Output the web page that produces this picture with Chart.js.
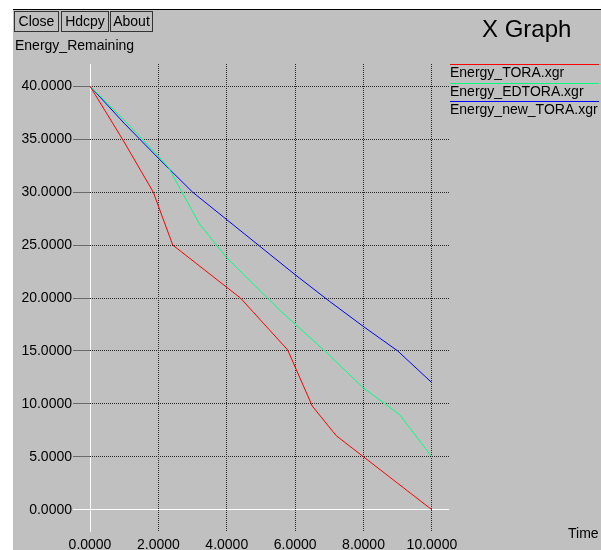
<!DOCTYPE html>
<html>
<head>
<meta charset="utf-8">
<title>X Graph</title>
<script src="https://cdn.jsdelivr.net/npm/chart.js@4.4.1/dist/chart.umd.min.js"></script>
<style>
    body {
        margin: 0;
        background: #fff;
        font-family: "Liberation Sans", Arial, sans-serif;
        font-size: 14px;
        color: #000;
    }
    .frame {
        position: absolute;
        left: 13px;
        top: 9px;
        width: 588px;
        height: 540px;
        background: #c0c0c0;
        border-top: 1px solid #000;
    }
    #chart {
        position: absolute;
        left: 0;
        top: 0;
    }
    .btn {
        position: absolute;
        top: 11px;
        height: 19px;
        line-height: 19px;
        border: 1px solid #333;
        text-align: center;
    }
    .ylabel {
        position: absolute;
        left: 15px;
        top: 37px;
        line-height: 16px;
    }
    .title {
        position: absolute;
        left: 482px;
        top: 15px;
        font-size: 24px;
        line-height: 28px;
    }
    .xlabel {
        position: absolute;
        left: 568px;
        top: 525px;
        line-height: 16px;
    }
    .legend {
        position: absolute;
        left: 450px;
        top: 0;
        width: 149px;
    }
    .legend__item {
        position: absolute;
        left: 0;
        width: 149px;
        line-height: 15px;
        white-space: nowrap;
    }
</style>
</head>
<body>
<div class="frame"></div>
<canvas id="chart" width="601" height="550"></canvas>
<div class="btn" style="left:14px;width:43px">Close</div>
<div class="btn" style="left:61px;width:46px">Hdcpy</div>
<div class="btn" style="left:110px;width:41px">About</div>
<div class="ylabel">Energy_Remaining</div>
<div class="title">X Graph</div>
<div class="xlabel">Time</div>
<div class="legend" id="legend"></div>

<script>

var toraTime = [0, 0.95, 1.85, 2.42, 4.4, 5.78, 6.5, 7.2, 10];
var toraEnergy = [40, 35, 30, 25, 20, 15.1, 9.8, 7, 0];

var edtoraTime = [0, 1, 2, 2.3, 3.2, 4, 5.6, 6.9, 8, 9.05, 10];
var edtoraEnergy = [40, 36.8, 33.4, 32.3, 27, 23.8, 18.7, 14.9, 11.5, 9, 5];

var newToraTime = [0, 1, 2, 3, 4, 5, 6, 7, 8, 9, 10];
var newToraEnergy = [40, 36.5, 33.2, 30, 27.4, 24.8, 22.2, 19.7, 17.3, 15, 12];

var timeTicks = [0, 2, 4, 6, 8, 10];
var energyTicks = [0, 5, 10, 15, 20, 25, 30, 35, 40];

function toPoints(xs, ys) {
    return xs.map(function(x, i) {
        return { x: x, y: ys[i] };
    });
}

function series(label, color, xs, ys) {
    return {
        label: label,
        data: toPoints(xs, ys),
        borderColor: color,
        backgroundColor: color,
        borderWidth: 1,
        pointRadius: 0,
        tension: 0,
        fill: false
    };
}

//Legend: coloured line above each file name, like xgraph

var legendTops = [64, 83, 101];

var xgraphLegend = {
    id: "xgraphLegend",
    afterUpdate: function(chart) {
        var box = document.getElementById("legend");
        box.innerHTML = "";
        chart.data.datasets.forEach(function(ds, i) {
            var item = document.createElement("div");
            item.className = "legend__item";
            item.style.top = legendTops[i] + "px";
            item.style.borderTop = "1px solid " + ds.borderColor;
            item.textContent = ds.label;
            box.appendChild(item);
        });
    }
};

function isZero(ctx) {
    return ctx.tick && ctx.tick.value === 0;
}

var fontSpec = { family: "'Liberation Sans', Arial, sans-serif", size: 14 };

var chart = new Chart(document.getElementById("chart"), {
    type: "line",
    data: {
        datasets: [
            series("Energy_TORA.xgr", "#ff0000", toraTime, toraEnergy),
            series("Energy_EDTORA.xgr", "#00ff7f", edtoraTime, edtoraEnergy),
            series("Energy_new_TORA.xgr", "#0000ff", newToraTime, newToraEnergy)
        ]
    },
    options: {
        responsive: false,
        animation: false,
        layout: {
            padding: { left: 0, right: 152, top: 64, bottom: 0 }
        },
        plugins: {
            legend: { display: false },
            title: { display: false },
            tooltip: { enabled: false }
        },
        scales: {
            x: {
                type: "linear",
                min: 0,
                max: 10.5,
                afterBuildTicks: function(scale) {
                    scale.ticks = timeTicks.map(function(v) { return { value: v }; });
                },
                afterFit: function(scale) {
                    scale.height = 18;
                },
                ticks: {
                    autoSkip: false,
                    maxRotation: 0,
                    padding: 5,
                    color: "#000",
                    font: fontSpec,
                    callback: function(value) {
                        return Number(value).toFixed(4);
                    }
                },
                grid: {
                    drawTicks: false,
                    lineWidth: 1,
                    color: function(ctx) {
                        return isZero(ctx) ? "#ffffff" : "#2a2a2a";
                    }
                },
                border: {
                    display: false,
                    dash: function(ctx) {
                        return isZero(ctx) ? [] : [1, 1];
                    }
                }
            },
            y: {
                type: "linear",
                min: -2.1,
                max: 42.1,
                afterBuildTicks: function(scale) {
                    scale.ticks = energyTicks.map(function(v) { return { value: v }; });
                },
                afterFit: function(scale) {
                    scale.width = 90;
                },
                ticks: {
                    autoSkip: false,
                    padding: 1,
                    color: "#000",
                    font: fontSpec,
                    callback: function(value) {
                        return Number(value).toFixed(4);
                    }
                },
                grid: {
                    drawTicks: true,
                    tickLength: 17,
                    lineWidth: 1,
                    tickWidth: 1,
                    tickBorderDash: [],
                    color: function(ctx) {
                        return isZero(ctx) ? "#ffffff" : "#2a2a2a";
                    },
                    tickColor: function(ctx) {
                        return isZero(ctx) ? "#ffffff" : "#6a6a6a";
                    }
                },
                border: {
                    display: false,
                    dash: function(ctx) {
                        return isZero(ctx) ? [] : [1, 1];
                    }
                }
            }
        }
    },
    plugins: [xgraphLegend]
});
</script>
</body>
</html>
